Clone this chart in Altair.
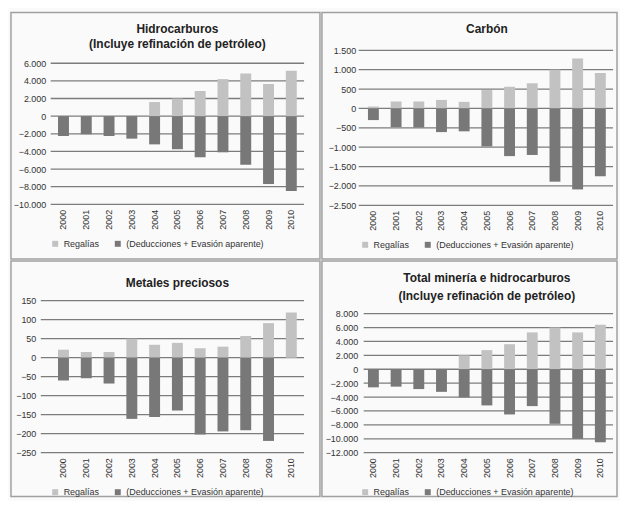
import altair as alt
import pandas as pd

years = [str(y) for y in range(2000, 2011)]
series_names = ["Regalías", "(Deducciones + Evasión aparente)"]

hidro_reg = [0, 0, 0, 0, 1600, 2000, 2850, 4200, 4850, 3650, 5150]
hidro_ded = [-2250, -2050, -2250, -2550, -3200, -3750, -4650, -4100, -5500, -7700, -8500]
hidro_ticks = [-10000, -8000, -6000, -4000, -2000, 0, 2000, 4000, 6000]

carbon_reg = [50, 180, 180, 220, 170, 475, 560, 650, 1000, 1290, 915]
carbon_ded = [-300, -480, -490, -610, -590, -980, -1230, -1200, -1890, -2090, -1750]
carbon_ticks = [-2500, -2000, -1500, -1000, -500, 0, 500, 1000, 1500]

metales_reg = [21, 15, 15, 50, 34, 39, 25, 29, 57, 91, 119]
metales_ded = [-60, -54, -68, -161, -156, -139, -202, -194, -191, -219, 0]
metales_ticks = [-250, -200, -150, -100, -50, 0, 50, 100, 150]

total_reg = [0, 0, 0, 0, 2000, 2750, 3600, 5300, 6000, 5300, 6400]
total_ded = [-2600, -2500, -2850, -3250, -4050, -5200, -6500, -5300, -7850, -10000, -10500]
total_ticks = [-12000, -10000, -8000, -6000, -4000, -2000, 0, 2000, 4000, 6000, 8000]

FONT = "Liberation Sans"
LIGHT = "#c2c2c2"
DARK = "#787878"
GRID = "#7c7c7c"


def panel(title_lines, reg, ded, ticks, dom_top, w, h, box, title_y, grid_x0, lab_pad):
    df = pd.DataFrame({
        "year": years * 2,
        "serie": [series_names[0]] * len(years) + [series_names[1]] * len(years),
        "value": reg + ded,
    })
    yscale = alt.Scale(domain=[ticks[0], dom_top], nice=False, zero=False)
    yaxis = alt.Axis(values=ticks, ticks=False, domain=False, grid=False,
                     labelFontSize=9, labelFont=FONT, labelColor="#333",
                     labelPadding=lab_pad,
                     labelExpr="replace(format(datum.value, ','), regexp(',', 'g'), '.')")
    one = pd.DataFrame({"k": [0]})
    border = alt.Chart(one).mark_rect(fillOpacity=0, stroke="#a0a0a0", strokeWidth=1.5).encode(
        x=alt.value(box[0]), x2=alt.value(w + box[1]),
        y=alt.value(box[2]), y2=alt.value(h + box[3]),
    )
    grid = alt.Chart(pd.DataFrame({"t": ticks})).mark_rule(color=GRID, strokeWidth=1.3).encode(
        y=alt.Y("t:Q", scale=yscale, axis=yaxis, title=None),
        x=alt.value(grid_x0), x2=alt.value(w),
    )
    bars = alt.Chart(df).mark_bar().encode(
        x=alt.X("year:N", sort=years, title=None,
                scale=alt.Scale(paddingInner=0.52, paddingOuter=0.32),
                axis=alt.Axis(labelAngle=-90, ticks=False, domain=False, grid=False,
                              labelFontSize=9, labelFont=FONT, labelColor="#333",
                              labelPadding=5, labelBaseline="middle", labelAlign="right")),
        y=alt.Y("value:Q", stack=None, title=None, scale=yscale, axis=yaxis),
        color=alt.Color("serie:N", sort=series_names,
                        scale=alt.Scale(domain=series_names, range=[LIGHT, DARK]),
                        legend=alt.Legend(title=None, orient="bottom", direction="horizontal",
                                          symbolType="square", symbolSize=36,
                                          labelFontSize=9, labelFont=FONT, labelColor="#333",
                                          columnPadding=14, offset=9)),
    )
    layers = [border, grid, bars]
    for line, yy in zip(title_lines, title_y):
        layers.append(
            alt.Chart(one).mark_text(fontSize=12, font=FONT, fontWeight="bold", color="#222",
                                     align="center", baseline="middle").encode(
                x=alt.value(w / 2), y=alt.value(yy), text=alt.value(line))
        )
    return alt.layer(*layers).properties(width=w, height=h)


tl = panel(["Hidrocarburos", "(Incluye refinación de petróleo)"], hidro_reg, hidro_ded,
           hidro_ticks, 7465, 255, 155, (-40, 16, -38, 55), [-21, -6], 0, 5)
tr = panel(["Carbón"], carbon_reg, carbon_ded, carbon_ticks, 1500, 254, 156,
           (-39, 4, -38, 54), [-21], -2, 5)
bl = panel(["Metales preciosos"], metales_reg, metales_ded, metales_ticks, 150, 255, 153,
           (-40, 16, -40, 44), [-18], -10, 15)
br = panel(["Total minería e hidrocarburos", "(Incluye refinación de petróleo)"], total_reg,
           total_ded, total_ticks, 9857, 254, 153, (-39, 4, -40, 44), [-23, -5], 3, 3)

chart = alt.concat(tl, tr, bl, br, columns=2, spacing=0).resolve_scale(
    color="independent"
).properties(
    padding=2, background="#fafafa"
).configure_view(stroke=None)

chart.save("out.html", embed_options={"renderer": "svg", "actions": False})
